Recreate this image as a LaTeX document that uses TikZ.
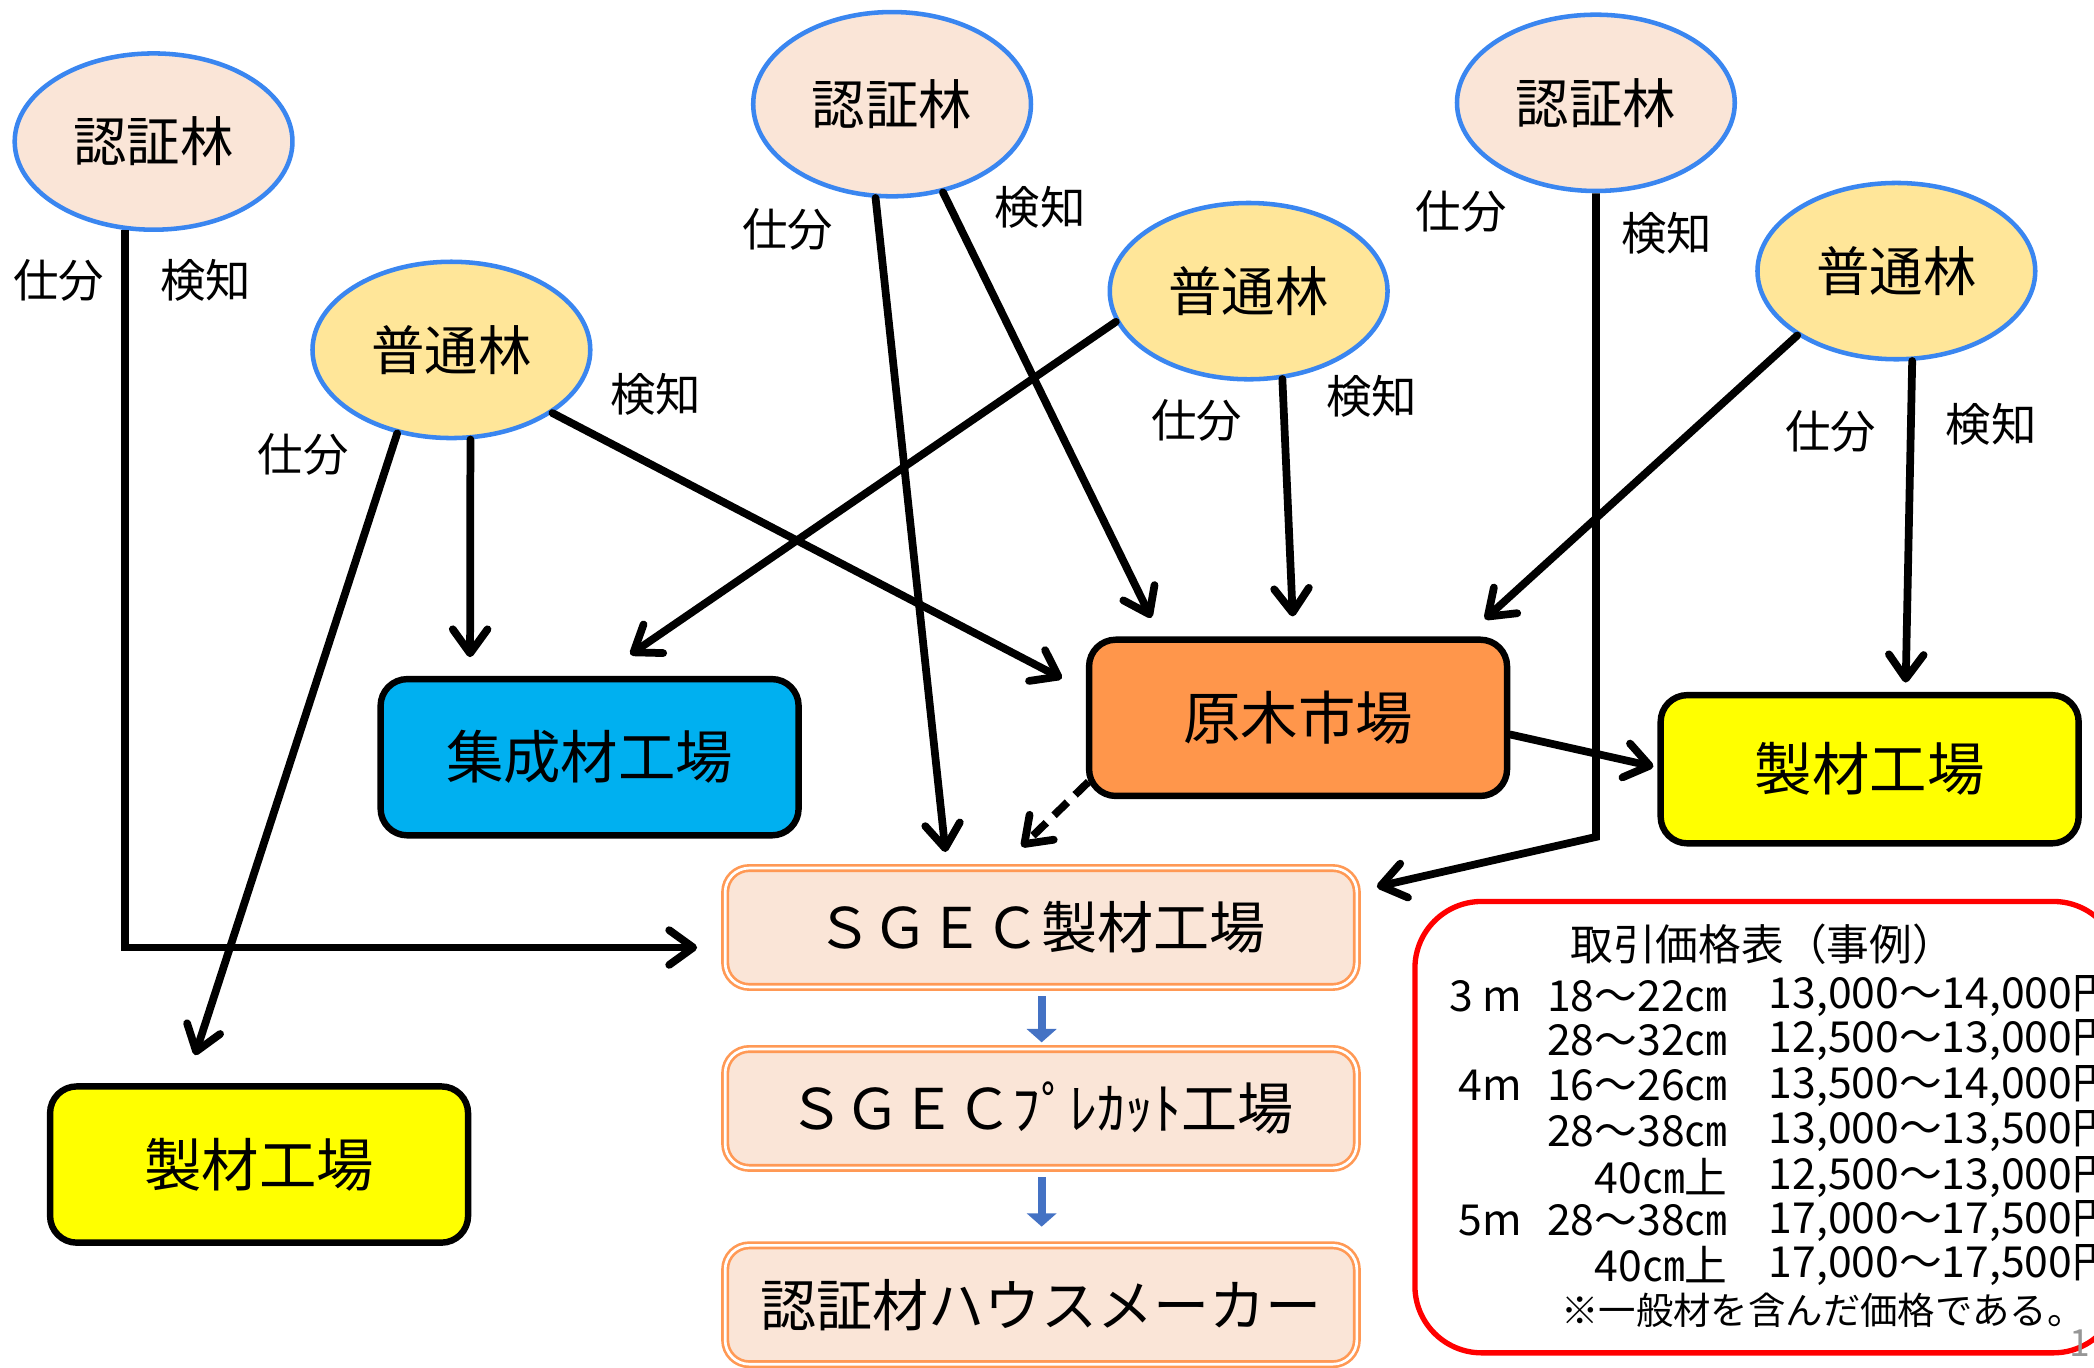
\documentclass[tikz,border=0pt]{standalone}
\usepackage{fontspec}
\setmainfont{Noto Sans CJK JP}
\usetikzlibrary{arrows.meta,shapes.geometric,calc}
\definecolor{peach}{RGB}{250,229,215}
\definecolor{ellblue}{RGB}{58,134,240}
\definecolor{ellyel}{RGB}{255,230,153}
\definecolor{cyanbox}{RGB}{0,176,240}
\definecolor{orangebox}{RGB}{255,150,75}
\definecolor{sgecline}{RGB}{255,153,85}
\definecolor{arrblue}{RGB}{68,114,196}
\definecolor{pagegray}{RGB}{150,150,150}
\definecolor{pureyellow}{RGB}{255,255,0}
\begin{document}
\begin{tikzpicture}[x=0.5pt,y=-0.5pt,
  forest/.style={ellipse, draw=ellblue, line width=1.7pt, inner sep=0pt,
    minimum width=104pt, minimum height=66pt, font=\fontsize{20}{20}\selectfont},
  cert/.style={forest, fill=peach},
  plainf/.style={forest, fill=ellyel},
  lbl/.style={font=\fontsize{17}{17}\selectfont, inner sep=0pt},
  mill/.style={draw=black, line width=2.4pt, rounded corners=10pt, minimum width=156.5pt,
    minimum height=58.5pt, inner sep=0pt, font=\fontsize{21.5}{21.5}\selectfont},
  sgec/.style={draw=sgecline, line width=1pt, double=white, double distance=1pt, fill=peach,
    rounded corners=9pt, minimum width=236.5pt, minimum height=44.5pt, inner sep=0pt,
    font=\fontsize{21}{21}\selectfont},
  flow/.style={line width=2.9pt, line cap=round, -{Straight Barb[length=9pt,width=13pt,line cap=round,line join=round]}},
  bluearr/.style={draw=arrblue, line width=3pt, -{Triangle[length=5pt,width=11pt]}},
  tbl/.style={font=\fontsize{16}{16}\selectfont, inner sep=0pt}
]
\useasboundingbox (0,0) rectangle (1568,1024);
\clip (0,0) rectangle (1568,1024);

% forests
\node[cert] (e1) at (115,106) {認証林};
\node[cert, minimum height=69pt] (e2) at (668,78) {認証林};
\node[cert] (e3) at (1195,77) {認証林};
\node[plainf] (e4) at (338,262) {普通林};
\node[plainf] (e5) at (935,218) {普通林};
\node[plainf] (e6) at (1420,203) {普通林};

% destination boxes
\node[mill, fill=cyanbox] (jsk) at (441.5,567) {集成材工場};
\node[mill, fill=orangebox] (gen) at (972,537.5) {原木市場};
\node[mill, fill=pureyellow, minimum height=55.5pt] (seiR) at (1400,576) {製材工場};
\node[mill, fill=pureyellow] (seiL) at (194,872) {製材工場};

\node[sgec] (s1) at (779.5,694.5) {ＳＧＥＣ製材工場};
\node[sgec] (s2) at (779.5,830) {ＳＧＥＣﾌﾟﾚｶｯﾄ工場};
\node[sgec] (s3) at (779.5,977) {認証材ハウスメーカー};

% labels
\node[lbl] (l1a) at (44,210) {仕分};
\node[lbl] (l1b) at (154,210) {検知};
\node[lbl] (l2a) at (590,172) {仕分};
\node[lbl] (l2b) at (779,155) {検知};
\node[lbl] (l3a) at (1094,158) {仕分};
\node[lbl] (l3b) at (1248,175) {検知};
\node[lbl] (l4a) at (227,340) {仕分};
\node[lbl] (l4b) at (491,295) {検知};
\node[lbl] (l5a) at (896,315) {仕分};
\node[lbl] (l5b) at (1027,297) {検知};
\node[lbl] (l6a) at (1371,323) {仕分};
\node[lbl] (l6b) at (1491,318) {検知};

% connectors
\draw[flow, line cap=butt] (e1.-108) |- ($(s1.west)+(-20,15)$);
\draw[flow] (e2.-100) -- ($(s1.north)+(-71.5,-11)$);
\draw[flow] (e2.-60) -- ($(gen.north)+(-110,-14)$);
\draw[flow, line cap=butt] (e3.south) -- ++(0,482) -- ($(s1.north east)+(14,15)$);
\draw[flow] (e4.-123) -- ($(seiL.north)+(-48,-21)$);
\draw[flow] (e4.-78) -- ($(jsk.north)+(-89.5,-14)$);
\draw[flow] (e4.-32) -- ($(gen.west)+(-18,-29.5)$);
\draw[flow] (e5.-167) -- ($(jsk.north)+(30.5,-16)$);
\draw[flow] (e5.-69.5) -- ($(gen.north)+(-4,-15)$);
\draw[flow] (e6.-147) -- ($(gen.north east)+(-19,-13)$);
\draw[flow] (e6.-80) -- ($(seiR.north)+(27,-7)$);
\draw[flow] ($(gen.east)+(0,12.5)$) -- ($(seiR.west)+(-3,-2)$);
\draw[flow, dash pattern=on 7pt off 4pt, line cap=butt] ($(gen.south west)+(2,-13)$) -- ($(s1.north)+(-14.5,-15)$);

\draw[bluearr] ($(s1.south)+(0.5,6)$) -- ($(s2.north)+(0.5,-4)$);
\draw[bluearr] ($(s2.south)+(0.5,6)$) -- ($(s3.north)+(0.5,-13)$);

% price table
\node[draw=red, line width=2pt, rounded corners=25pt, minimum width=264pt, minimum height=169pt] (ptab) at (1323.5,844) {};
\node[tbl] (ttl) at (1320,707) {取引価格表（事例）};
\node[tbl, anchor=east] (r1a) at (1140,746) {3 m};
\node[tbl, anchor=east] (r1b) at (1294,746) {18～22㎝};
\node[tbl, anchor=west] (r1c) at (1324,746) {13,000～14,000円};
\node[tbl, anchor=east] (r2b) at (1294,779) {28～32㎝};
\node[tbl, anchor=west] (r2c) at (1324,779) {12,500～13,000円};
\node[tbl, anchor=east] (r3a) at (1140,813) {4m};
\node[tbl, anchor=east] (r3b) at (1294,813) {16～26㎝};
\node[tbl, anchor=west] (r3c) at (1324,813) {13,500～14,000円};
\node[tbl, anchor=east] (r4b) at (1294,847) {28～38㎝};
\node[tbl, anchor=west] (r4c) at (1324,847) {13,000～13,500円};
\node[tbl, anchor=east] (r5b) at (1294,881) {40㎝上};
\node[tbl, anchor=west] (r5c) at (1324,881) {12,500～13,000円};
\node[tbl, anchor=east] (r6a) at (1140,914) {5m};
\node[tbl, anchor=east] (r6b) at (1294,914) {28～38㎝};
\node[tbl, anchor=west] (r6c) at (1324,914) {17,000～17,500円};
\node[tbl, anchor=east] (r7b) at (1294,947) {40㎝上};
\node[tbl, anchor=west] (r7c) at (1324,947) {17,000～17,500円};
\node[tbl, font=\fontsize{14}{14}\selectfont] (note) at (1365,981) {※一般材を含んだ価格である。};
\node[inner sep=0pt, anchor=west, text=pagegray, font=\fontsize{14}{14}\selectfont] (pg) at (1549,1006) {1};
\end{tikzpicture}
\end{document}
